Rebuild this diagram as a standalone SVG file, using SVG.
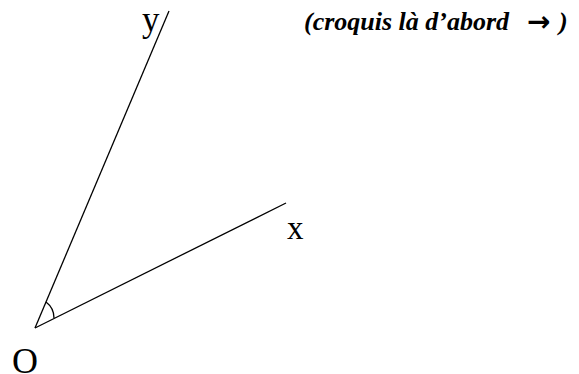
<svg xmlns="http://www.w3.org/2000/svg" width="579" height="374" viewBox="0 0 579 374">
<style>
.l{stroke:#000;stroke-width:1.3;fill:none}
.t{font-family:"Liberation Serif",serif;fill:#000}
.n{font-family:"Liberation Serif",serif;fill:#000;font-size:26px;font-weight:bold;font-style:italic}
.a{font-family:"DejaVu Sans",sans-serif;fill:#000;font-size:28px;font-weight:bold}
</style>
<rect width="579" height="374" fill="#fff"/>
<g id="connectors">
<line class="l" x1="35" y1="328" x2="169" y2="11"/>
<line class="l" x1="35" y1="328" x2="286" y2="203"/>
<path class="l" d="M46,302 Q54,308 54,318"/>
</g>
<g id="y"><text class="t" x="142" y="31" font-size="35">y</text></g>
<g id="x"><text class="t" x="287" y="239" font-size="33">x</text></g>
<g id="O"><text class="t" x="12" y="373" font-size="36">O</text></g>
<g id="note"><text class="n" x="304" y="30">(croquis là d’abord</text><text class="a" x="527" y="31">→</text><text class="n" x="559" y="30">)</text></g>
</svg>
